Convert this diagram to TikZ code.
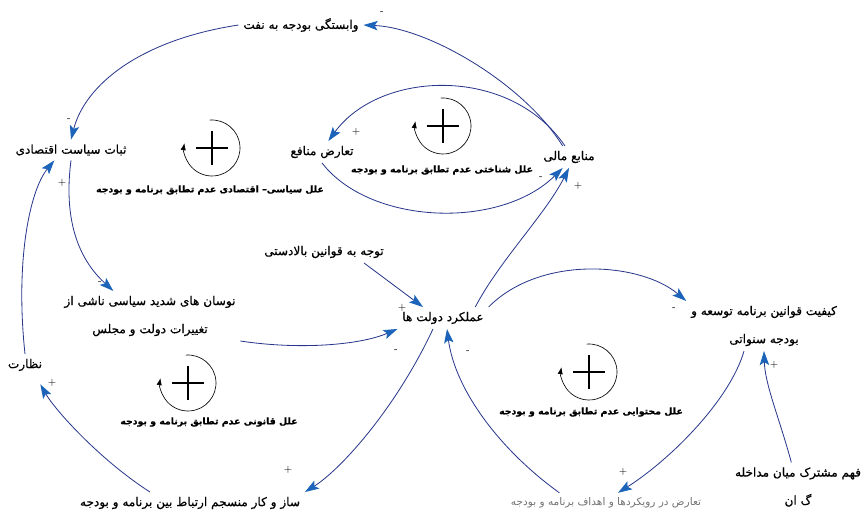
\documentclass[tikz,border=0pt]{standalone}
\usepackage{fontspec}
\newfontfamily\farsi[Script=Arabic, FakeBold=0.6]{DejaVu Sans}
\newfontfamily\farsithin[Script=Arabic]{DejaVu Sans}
\TeXXeTstate=1
\usetikzlibrary{arrows.meta}
\definecolor{linkblue}{RGB}{40,55,140}
\definecolor{tipblue}{RGB}{28,100,185}
\newcommand{\fa}[1]{\beginR #1\endR}

\begin{document}
\begin{tikzpicture}[x=0.03cm, y=-0.03cm,
  var/.style={font=\farsi\fontsize{10.3}{24}\selectfont, align=center, inner sep=4pt},
  faint/.style={var, text=black!55, font=\farsithin\fontsize{9}{10}\selectfont},
  looplbl/.style={font=\farsi\bfseries\fontsize{8}{10}\selectfont, inner sep=1pt},
  pol/.style={font=\small, inner sep=0pt},
  link/.style={linkblue, line width=0.7pt, -{Stealth[length=12pt, width=8pt, inset=2.5pt, color=tipblue]}},
  loopring/.style={line width=0.55pt, -{Latex[length=6pt, width=4.5pt]}},
  loopplus/.style={line width=1.2pt}]
\useasboundingbox (0,0) rectangle (866,513);
% variables
\node[var] (dep) at (301,25) {\fa{وابستگی بودجه به نفت}};
\node[var] (stab) at (71,150) {\fa{ثبات سیاست اقتصادی}};
\node[var] (conf) at (322,152) {\fa{تعارض منافع}};
\node[var] (fin) at (569,157) {\fa{منابع مالی}};
\node[var] (att) at (324,252) {\fa{توجه به قوانین بالادستی}};
\node[var] (perf) at (443,318) {\fa{عملکرد دولت ها}};
\node[var] (nav) at (150,316) {\fa{نوسان های شدید سیاسی ناشی از}\\\fa{تغییرات دولت و مجلس}};
\node[var] (nez) at (25,365) {\fa{نظارت}};
\node[var] (qual) at (764,326) {\fa{کیفیت قوانین برنامه توسعه و}\\\fa{بودجه سنواتی}};
\node[var] (und) at (798,487) {\fa{فهم مشترک میان مداخله}\\\fa{گ ان}};
\node[faint] (tar) at (606,503) {\fa{تعارض در رویکردها و اهداف برنامه و بودجه}};
\node[var] (saz) at (190,503) {\fa{ساز و کار منسجم ارتباط بین برنامه و بودجه}};
% causal links
\draw[link] (fin.120) .. controls (525,85) and (430,28) .. (dep.east);
\draw[link] (fin.110) .. controls (510,65) and (380,70) .. (conf.60);
\draw[link] (conf.south) .. controls (370,225) and (500,230) .. (fin.240);
\draw[link] ([xshift=-0.4cm]perf.north east) .. controls (500,260) and (545,215) .. (fin.south);
\draw[link] (perf.north east) .. controls (540,255) and (640,262) .. (qual.north west);
\draw[link] ([xshift=-0.3cm]perf.south) .. controls (395,410) and (340,470) .. (saz.north east);
\draw[link] ([xshift=1.6cm]tar.north west) .. controls (500,450) and (455,390) .. (perf.290);
\draw[link] ([xshift=-0.6cm]qual.south) .. controls (730,400) and (670,460) .. ([xshift=0.36cm]tar.north);
\draw[link] ([xshift=-0.2cm]und.north) .. controls (780,420) and (765,385) .. (qual.south);
\draw[link] ([xshift=1.2cm]att.south) -- ([xshift=-0.6cm]perf.north);
\draw[link] (nav.south east) .. controls (300,350) and (360,345) .. (perf.south west);
\draw[link] (stab.south) .. controls (62,230) and (85,265) .. ([xshift=-1.1cm]nav.north);
\draw[link] (dep.west) .. controls (140,40) and (85,85) .. (stab.north);
\draw[link] (nez.north) .. controls (15,260) and (30,190) .. ([xshift=-0.5cm]stab.south);
\draw[link] ([xshift=-1.2cm]saz.north) .. controls (100,460) and (55,410) .. ([xshift=-0.2cm,yshift=-0.25cm]nez.south east);
% polarity signs
\foreach \nm/\px/\py/\sg in {pdep/382/13/-, pstabA/69/120/-, pstabB/62/183/+,
    pconf/356/132/+, pfinA/541/178/-, pfinB/578/186/+, pperfA/402/308/+,
    pperfB/396/351/-, pperfC/468/352/-, pnav/100/283/-, pqualA/674/309/-,
    pqualB/774/365/+, ptar/623/472/+, psaz/288/470/+, pnez/52/383/+}
  \node[pol] (\nm) at (\px,\py) {\sg};
% reinforcing loops
\foreach \cx/\cy in {212/148, 443/126, 589/372, 188/383}{
  \draw[loopring] (\cx,\cy) ++(-95:28) arc[start angle=-95, end angle=190, radius=28];
  \draw[loopplus] (\cx-16,\cy) -- (\cx+16,\cy) (\cx,\cy-17) -- (\cx,\cy+17);
}
\node[looplbl] (polLoop) at (210,190) {\fa{علل سیاسی– اقتصادی عدم تطابق برنامه و بودجه}};
\node[looplbl] (cogLoop) at (442,170) {\fa{علل شناختی عدم تطابق برنامه و بودجه}};
\node[looplbl] (conLoop) at (591,412) {\fa{علل محتوایی عدم تطابق برنامه و بودجه}};
\node[looplbl] (legLoop) at (209,422) {\fa{علل قانونی عدم تطابق برنامه و بودجه}};
\end{tikzpicture}
\end{document}
